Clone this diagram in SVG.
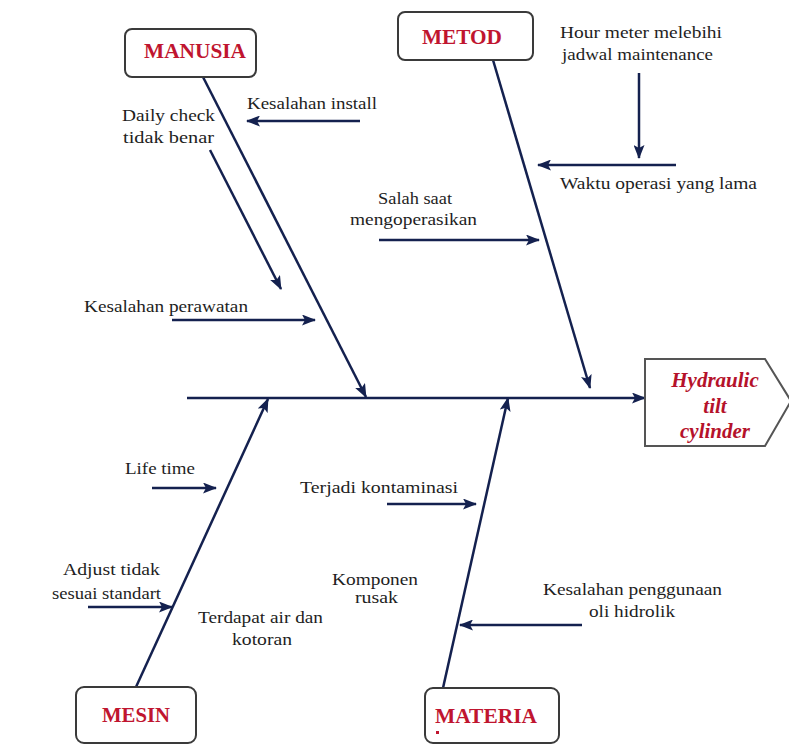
<svg xmlns="http://www.w3.org/2000/svg" width="789" height="745" viewBox="0 0 789 745">
<defs>
<marker id="ah" markerUnits="userSpaceOnUse" markerWidth="14" markerHeight="11" refX="13" refY="5.5" orient="auto">
<path d="M0,0 L14,5.5 L0,11 L3,5.5 z" fill="#14214f"/>
</marker>
<style>
.box{fill:#fff;stroke:#3a3a3a;stroke-width:2}
.cat{font-family:"Liberation Serif","Times New Roman",serif;font-weight:bold;font-size:21px;fill:#c0152f}
.eff{font-family:"Liberation Serif","Times New Roman",serif;font-weight:bold;font-style:italic;font-size:21px;fill:#b5122b;text-anchor:middle}
.t{font-family:"Liberation Serif","Times New Roman",serif;font-size:17px;fill:#1e1e1e}
.arr{stroke:#14214f;stroke-width:2.5;fill:none;marker-end:url(#ah)}
</style>
</defs>
<rect width="789" height="745" fill="#fff"/>
<g id="connectors">
<line class="arr" x1="187" y1="398" x2="645" y2="398"/>
<line class="arr" x1="203" y1="77" x2="366" y2="397"/>
<line class="arr" x1="493" y1="60" x2="590" y2="388"/>
<line class="arr" x1="136" y1="687" x2="268" y2="399"/>
<line class="arr" x1="443" y1="688" x2="508" y2="398"/>
<line class="arr" x1="360" y1="121" x2="247" y2="121"/>
<line class="arr" x1="210" y1="150" x2="281" y2="289"/>
<line class="arr" x1="172" y1="320" x2="315" y2="320"/>
<line class="arr" x1="379" y1="240" x2="539" y2="240"/>
<line class="arr" x1="639" y1="73" x2="639" y2="158"/>
<line class="arr" x1="676" y1="165" x2="538" y2="165"/>
<line class="arr" x1="152" y1="488" x2="216" y2="488"/>
<line class="arr" x1="88" y1="607" x2="172" y2="607"/>
<line class="arr" x1="387" y1="504" x2="476" y2="504"/>
<line class="arr" x1="582" y1="625" x2="460" y2="625"/>
</g>
<g id="manusia">
<rect class="box" x="125" y="29" width="131" height="48" rx="7"/>
<text class="cat" x="144" y="58" textLength="102" lengthAdjust="spacingAndGlyphs">MANUSIA</text>
</g>
<g id="metod">
<rect class="box" x="398" y="12" width="135" height="48" rx="7"/>
<text class="cat" x="422" y="44" textLength="80" lengthAdjust="spacingAndGlyphs">METOD</text>
</g>
<g id="mesin">
<rect class="box" x="76" y="687" width="120" height="56" rx="8"/>
<text class="cat" x="102" y="722" textLength="68" lengthAdjust="spacingAndGlyphs">MESIN</text>
</g>
<g id="materia">
<rect class="box" x="425" y="688" width="134" height="55" rx="8"/>
<text class="cat" x="435" y="723" textLength="102" lengthAdjust="spacingAndGlyphs">MATERIA</text>
<rect x="436" y="731" width="3" height="3" fill="#c0152f"/>
</g>
<g id="effect">
<path d="M645,359 L765,359 L791,401 L765,446 L645,446 z" fill="#fff" stroke="#555" stroke-width="2"/>
<text class="eff" x="715" y="387">Hydraulic</text>
<text class="eff" x="715" y="413">tilt</text>
<text class="eff" x="715" y="438">cylinder</text>
</g>
<g id="kesalahan-install">
<text class="t" x="247" y="109" textLength="130" lengthAdjust="spacingAndGlyphs">Kesalahan install</text>
</g>
<g id="daily-check">
<text class="t" x="122" y="121" textLength="93" lengthAdjust="spacingAndGlyphs">Daily  check</text>
<text class="t" x="123" y="143" textLength="91" lengthAdjust="spacingAndGlyphs">tidak benar</text>
</g>
<g id="kesalahan-perawatan">
<text class="t" x="84" y="312" textLength="164" lengthAdjust="spacingAndGlyphs">Kesalahan perawatan</text>
</g>
<g id="salah-saat">
<text class="t" x="378" y="204" textLength="74" lengthAdjust="spacingAndGlyphs">Salah saat</text>
<text class="t" x="350" y="225" textLength="127" lengthAdjust="spacingAndGlyphs">mengoperasikan</text>
</g>
<g id="hour-meter">
<text class="t" x="560" y="38" textLength="162" lengthAdjust="spacingAndGlyphs">Hour meter melebihi</text>
<text class="t" x="562" y="60" textLength="151" lengthAdjust="spacingAndGlyphs">jadwal maintenance</text>
</g>
<g id="waktu-operasi">
<text class="t" x="560" y="189" textLength="197" lengthAdjust="spacingAndGlyphs">Waktu operasi yang lama</text>
</g>
<g id="life-time">
<text class="t" x="125" y="474" textLength="70" lengthAdjust="spacingAndGlyphs">Life time</text>
</g>
<g id="adjust">
<text class="t" x="63" y="575" textLength="97" lengthAdjust="spacingAndGlyphs">Adjust tidak</text>
<text class="t" x="52" y="599" textLength="109" lengthAdjust="spacingAndGlyphs">sesuai standart</text>
</g>
<g id="terdapat-air">
<text class="t" x="198" y="623" textLength="125" lengthAdjust="spacingAndGlyphs">Terdapat air dan</text>
<text class="t" x="232" y="645" textLength="60" lengthAdjust="spacingAndGlyphs">kotoran</text>
</g>
<g id="terjadi-kontaminasi">
<text class="t" x="300" y="493" textLength="158" lengthAdjust="spacingAndGlyphs">Terjadi kontaminasi</text>
</g>
<g id="komponen">
<text class="t" x="332" y="585" textLength="86" lengthAdjust="spacingAndGlyphs">Komponen</text>
<text class="t" x="355" y="603" textLength="43" lengthAdjust="spacingAndGlyphs">rusak</text>
</g>
<g id="kesalahan-oli">
<text class="t" x="543" y="595" textLength="179" lengthAdjust="spacingAndGlyphs">Kesalahan penggunaan</text>
<text class="t" x="589" y="617" textLength="86" lengthAdjust="spacingAndGlyphs">oli hidrolik</text>
</g>
</svg>
